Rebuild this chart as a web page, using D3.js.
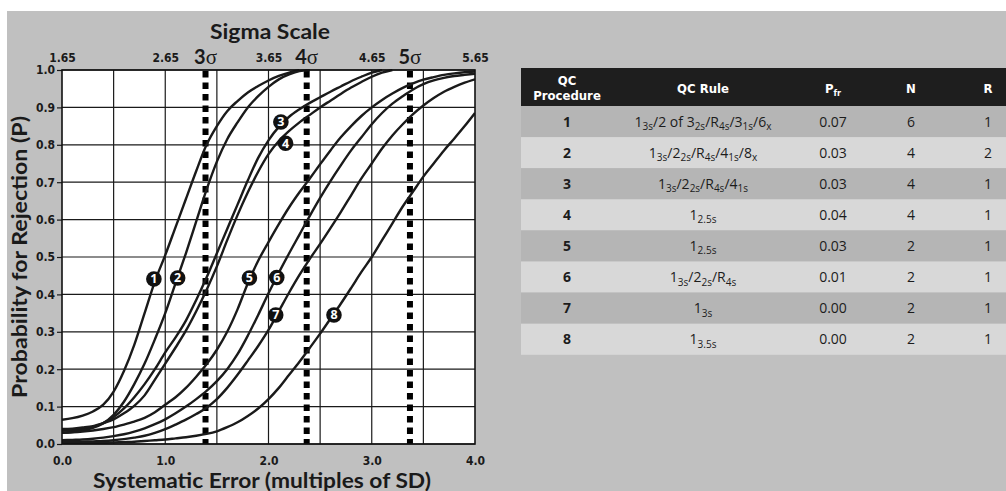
<!DOCTYPE html>
<html><head><meta charset="utf-8">
<script src="https://cdn.jsdelivr.net/npm/d3@7"></script>
<style>
html,body{margin:0;padding:0;background:#fff;}
svg{display:block;}
.cond{font-family:"Liberation Sans Narrow","DejaVu Sans Condensed","Roboto",sans-serif;font-stretch:condensed;font-weight:bold;}
.title{font-family:"Lato","Open Sans",sans-serif;font-weight:bold;fill:#1a1a1a;}
.tbl{font-family:"Open Sans","Noto Sans",sans-serif;fill:#1c1c1c;}
</style></head><body>
<svg id="c" width="1006" height="491"></svg>
<script>
// ---------- data ----------
const seGrid = [0.0,0.1,0.2,0.3,0.4,0.5,0.6,0.7,0.8,0.9,1.0,1.1,1.2,1.3,1.4,1.5,1.6,1.7,1.8,1.9,2.0,
                2.1,2.2,2.3,2.4,2.5,2.6,2.7,2.8,2.9,3.0,3.1,3.2,3.3,3.4,3.5,3.6,3.7,3.8,3.9,4.0];
const curve1 = [0.065,0.069,0.076,0.087,0.105,0.14,0.195,0.265,0.35,0.435,0.505,0.58,0.655,0.73,0.80,0.85,0.89,0.917,0.94,0.957,0.972,0.984,0.993,1.0];
const curve2 = [0.035,0.037,0.040,0.046,0.056,0.078,0.113,0.16,0.215,0.28,0.35,0.43,0.51,0.595,0.68,0.755,0.815,0.86,0.90,0.93,0.955,0.975,0.988,0.997,1.0];
const curve3 = [0.03,0.032,0.036,0.043,0.055,0.072,0.095,0.125,0.16,0.20,0.245,0.285,0.33,0.385,0.445,0.51,0.575,0.64,0.705,0.765,0.812,0.848,0.875,0.895,0.912,0.927,0.942,0.956,0.97,0.982,0.993,1.0];
const curve4 = [0.04,0.041,0.044,0.048,0.056,0.066,0.082,0.102,0.13,0.172,0.215,0.258,0.303,0.355,0.412,0.475,0.545,0.612,0.673,0.728,0.775,0.81,0.837,0.86,0.88,0.90,0.918,0.936,0.953,0.968,0.982,0.993,1.0];
const curve5 = [0.03,0.031,0.033,0.036,0.04,0.045,0.052,0.06,0.07,0.085,0.105,0.125,0.15,0.18,0.213,0.252,0.30,0.36,0.43,0.49,0.54,0.588,0.633,0.673,0.71,0.748,0.785,0.82,0.85,0.877,0.90,0.92,0.937,0.952,0.964,0.974,0.981,0.987,0.991,0.994,0.996];
const curve6 = [0.01,0.011,0.012,0.014,0.017,0.021,0.026,0.033,0.042,0.053,0.066,0.082,0.10,0.12,0.142,0.168,0.20,0.24,0.29,0.345,0.403,0.458,0.51,0.56,0.61,0.658,0.703,0.745,0.785,0.82,0.855,0.885,0.91,0.93,0.948,0.962,0.972,0.979,0.984,0.987,0.99];
const curve7 = [0.005,0.005,0.006,0.007,0.008,0.01,0.013,0.017,0.022,0.03,0.04,0.052,0.065,0.08,0.097,0.12,0.15,0.185,0.223,0.262,0.305,0.355,0.405,0.452,0.495,0.535,0.577,0.62,0.665,0.71,0.75,0.79,0.825,0.855,0.882,0.905,0.925,0.942,0.955,0.966,0.975];
const curve8 = [0.001,0.0015,0.002,0.0025,0.003,0.004,0.005,0.006,0.008,0.01,0.012,0.015,0.018,0.022,0.027,0.034,0.045,0.058,0.075,0.095,0.12,0.15,0.185,0.22,0.257,0.295,0.335,0.375,0.417,0.46,0.50,0.545,0.59,0.635,0.675,0.715,0.75,0.785,0.817,0.85,0.885];
const curves = [curve1,curve2,curve3,curve4,curve5,curve6,curve7,curve8];

const xTicks = [0,1,2,3,4];
const xGrid = [0.5,1,1.5,2,2.5,3,3.5];
const yTicks = [0,0.1,0.2,0.3,0.4,0.5,0.6,0.7,0.8,0.9,1.0];
const sigmaTicks = [1.65,2.65,3.65,4.65,5.65];
const sigmaLineSE = [1.39,2.37,3.37];
const sigmaLineLabels = ["3","4","5"];
const curveLabelSE = [0.89,1.12,2.12,2.165,1.815,2.08,2.07,2.634];
const curveLabelP  = [0.441,0.444,0.861,0.804,0.444,0.445,0.345,0.345];

const procedures = ["1","2","3","4","5","6","7","8"];
const rules = ["1_{3s}/2 of 3_{2s}/R_{4s}/3_{1s}/6_{x}",
               "1_{3s}/2_{2s}/R_{4s}/4_{1s}/8_{x}",
               "1_{3s}/2_{2s}/R_{4s}/4_{1s}",
               "1_{2.5s}",
               "1_{2.5s}",
               "1_{3s}/2_{2s}/R_{4s}",
               "1_{3s}",
               "1_{3.5s}"];
const pfr = ["0.07","0.03","0.03","0.04","0.03","0.01","0.00","0.00"];
const nVals = ["6","4","4","4","2","2","2","2"];
const rVals = ["1","2","1","1","1","1","1","1"];

// ---------- layout ----------
const svg = d3.select("#c");
const L = 62, R = 475, T = 70, B = 444;
const x = d3.scaleLinear().domain([0,4]).range([L,R]);
const y = d3.scaleLinear().domain([0,1]).range([B,T]);
const sig = d3.scaleLinear().domain([1.65,5.65]).range([L,R]);

svg.append("rect").attr("x",7).attr("y",11).attr("width",999).attr("height",480).attr("fill","#c0c0c0");

// plot background
svg.append("rect").attr("x",L).attr("y",T).attr("width",R-L).attr("height",B-T).attr("fill","#fff");

// grid
svg.append("g").selectAll("line").data(xGrid).join("line")
  .attr("x1",d=>x(d)).attr("x2",d=>x(d)).attr("y1",T).attr("y2",B)
  .attr("stroke","#1a1a1a").attr("stroke-width",1.2);
svg.append("g").selectAll("line").data(yTicks).join("line")
  .attr("x1",L).attr("x2",R).attr("y1",d=>y(d)).attr("y2",d=>y(d))
  .attr("stroke","#1a1a1a").attr("stroke-width",1.2);

// axes
const gy = svg.append("g").attr("transform",`translate(${L},0)`)
  .call(d3.axisLeft(y).tickValues(yTicks).tickSize(5).tickPadding(2).tickFormat(d3.format(".1f")));
gy.select(".domain").remove();
gy.selectAll("line").attr("stroke","#1a1a1a").attr("stroke-width",1.2);
gy.selectAll("text").attr("class","cond").attr("font-size",12).attr("fill","#1a1a1a");

const gx = svg.append("g").attr("transform",`translate(0,${B})`)
  .call(d3.axisBottom(x).tickValues(xTicks).tickSize(0).tickPadding(12).tickFormat(d3.format(".1f")));
gx.select(".domain").remove();
gx.selectAll("text").attr("class","cond").attr("font-size",12).attr("fill","#1a1a1a");

const gs = svg.append("g").attr("transform",`translate(0,62)`)
  .call(d3.axisTop(sig).tickValues(sigmaTicks).tickSize(0).tickPadding(0).tickFormat(d3.format(".2f")));
gs.select(".domain").remove();
gs.selectAll("text").attr("class","cond").attr("font-size",12).attr("fill","#1a1a1a");

// sigma dotted lines
svg.append("g").selectAll("line").data(sigmaLineSE).join("line")
  .attr("x1",d=>x(d)).attr("x2",d=>x(d)).attr("y1",T+1).attr("y2",B)
  .attr("stroke","#000").attr("stroke-width",6).attr("stroke-dasharray","6.5,5");
const sl = svg.append("g").selectAll("text").data(sigmaLineSE).join("text")
  .attr("x",d=>x(d)).attr("y",64).attr("text-anchor","middle").attr("fill","#1a1a1a");
sl.append("tspan").attr("font-family","Lato, 'Open Sans', sans-serif").attr("font-weight","bold").attr("font-size",20)
  .text((d,i)=>sigmaLineLabels[i]);
sl.append("tspan").attr("font-family","'Liberation Serif','DejaVu Serif',serif").attr("font-size",21)
  .text("σ");

// curves
svg.append("clipPath").attr("id","pc").append("rect").attr("x",L).attr("y",T-1).attr("width",R-L).attr("height",B-T+1);
const line = d3.line().x(d=>x(d[0])).y(d=>y(d[1])).curve(d3.curveMonotoneX);
svg.append("g").attr("clip-path","url(#pc)").selectAll("path").data(curves).join("path")
  .attr("d",c=>line(c.map((v,i)=>[seGrid[i],v])))
  .attr("fill","none").attr("stroke","#1a1a1a").attr("stroke-width",2.4).attr("stroke-linejoin","round");

// border
svg.append("rect").attr("x",L).attr("y",T).attr("width",R-L).attr("height",B-T)
  .attr("fill","none").attr("stroke","#111").attr("stroke-width",1.6);

// curve labels
const lg = svg.append("g").selectAll("g").data(curveLabelSE).join("g")
  .attr("transform",(d,i)=>`translate(${x(d)},${y(curveLabelP[i])})`);
lg.append("circle").attr("r",7.8).attr("fill","#111");
lg.append("text").attr("text-anchor","middle").attr("y",4.3)
  .attr("font-family","'Open Sans',sans-serif").attr("font-weight","bold").attr("font-size",12.5)
  .attr("fill","#fff").text((d,i)=>procedures[i]);

// titles
svg.append("text").attr("class","title").attr("x",270).attr("y",39).attr("text-anchor","middle")
  .attr("font-size",21).attr("textLength",120).attr("lengthAdjust","spacingAndGlyphs").text("Sigma Scale");
svg.append("text").attr("class","title").attr("transform","translate(27,257) rotate(-90)").attr("text-anchor","middle")
  .attr("font-size",20).attr("textLength",282).attr("lengthAdjust","spacingAndGlyphs").text("Probability for Rejection (P)");
svg.append("text").attr("class","title").attr("x",262).attr("y",488).attr("text-anchor","middle")
  .attr("font-size",21).attr("textLength",338).attr("lengthAdjust","spacingAndGlyphs").text("Systematic Error (multiples of SD)");

// ---------- table ----------
const TX = 521, TW = 1006-521, HT = 68, HH = 38, RH = 31.1;
const colX = [567,703,833,911,988];
svg.append("rect").attr("x",TX).attr("y",HT).attr("width",TW).attr("height",HH).attr("fill","#1e1e1e");
const rows = svg.append("g").selectAll("g").data(procedures).join("g")
  .attr("transform",(d,i)=>`translate(0,${HT+HH+i*RH})`);
rows.append("rect").attr("x",TX).attr("width",TW).attr("height",RH)
  .attr("fill",(d,i)=>i%2===0?"#b5b5b5":"#d8d8d8");

// header text
const hdr = svg.append("g").attr("class","cond").attr("fill","#fff").attr("font-size",13).attr("text-anchor","middle");
hdr.append("text").attr("x",colX[0]).attr("y",85).text("QC");
hdr.append("text").attr("x",colX[0]).attr("y",100).text("Procedure");
hdr.append("text").attr("x",colX[1]).attr("y",93).text("QC Rule");
const ph = hdr.append("text").attr("x",colX[2]).attr("y",93);
ph.append("tspan").text("P");
ph.append("tspan").attr("font-size",9).attr("dy",3).text("fr");
hdr.append("text").attr("x",colX[3]).attr("y",93).text("N");
hdr.append("text").attr("x",colX[4]).attr("y",93).text("R");

function rich(sel, str){
  const parts = str.split(/(_\{[^}]*\})/).filter(s=>s.length);
  let shifted = false;
  parts.forEach(p=>{
    if (p.startsWith("_{")) {
      sel.append("tspan").attr("font-size",10).attr("dy",shifted?0:3.5).text(p.slice(2,-1));
      shifted = true;
    } else {
      sel.append("tspan").attr("dy",shifted?-3.5:0).text(p);
      shifted = false;
    }
  });
}
const by = RH/2+5;
rows.append("text").attr("class","tbl").attr("x",colX[0]).attr("y",by).attr("text-anchor","middle")
  .attr("font-size",14).attr("font-weight","bold").text(d=>d);
rows.append("text").attr("class","tbl").attr("x",colX[1]).attr("y",by).attr("text-anchor","middle")
  .attr("font-size",14).each(function(d,i){ rich(d3.select(this), rules[i]); });
rows.append("text").attr("class","tbl").attr("x",colX[2]).attr("y",by).attr("text-anchor","middle")
  .attr("font-size",14).text((d,i)=>pfr[i]);
rows.append("text").attr("class","tbl").attr("x",colX[3]).attr("y",by).attr("text-anchor","middle")
  .attr("font-size",14).text((d,i)=>nVals[i]);
rows.append("text").attr("class","tbl").attr("x",colX[4]).attr("y",by).attr("text-anchor","middle")
  .attr("font-size",14).text((d,i)=>rVals[i]);
</script>
</body></html>
